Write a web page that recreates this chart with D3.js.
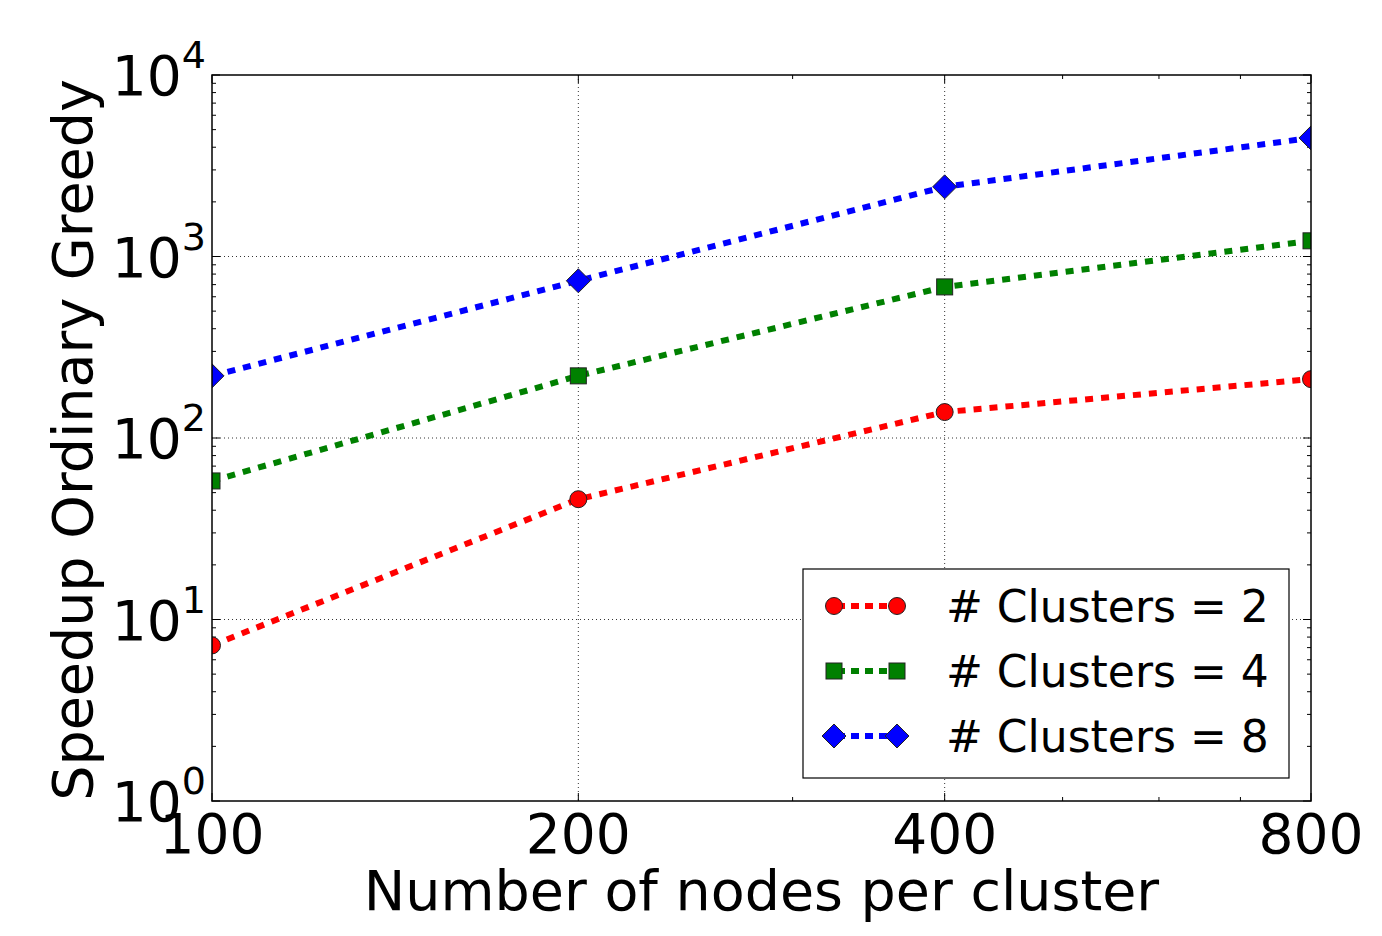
<!DOCTYPE html>
<html>
<head>
<meta charset="utf-8">
<script src="https://cdn.jsdelivr.net/npm/d3@7"></script>
<style>
  body { margin: 0; background: #fff; }
  svg { font-family: "DejaVu Sans", sans-serif; }
</style>
</head>
<body>
<script>
// data
var nodes = [100, 200, 400, 800];
var speedup2 = [7.2, 46, 139, 211];
var speedup4 = [58, 220, 680, 1220];
var speedup8 = [220, 735, 2420, 4500];
var seriesNames = ['# Clusters = 2', '# Clusters = 4', '# Clusters = 8'];
var xTicks = [100, 200, 400, 800];
var xMinor = [300, 500, 600, 700];
var yTicks = [1, 10, 100, 1000, 10000];

(function () {
  'use strict';

  var W = 1382, H = 936;
  var pL = 212, pR = 1311, pT = 75, pB = 801;

  var series = [
    { name: seriesNames[0], values: speedup2, color: '#ff0000', marker: 'circle' },
    { name: seriesNames[1], values: speedup4, color: '#008000', marker: 'square' },
    { name: seriesNames[2], values: speedup8, color: '#0000ff', marker: 'diamond' }
  ];

  var svg = d3.select('body').append('svg')
    .attr('width', W).attr('height', H);

  var x = d3.scaleLog().domain([100, 800]).range([pL, pR]);
  var y = d3.scaleLog().domain([1, 10000]).range([pB, pT]);

  // y minor ticks 2..9 per decade
  var yMinor = [];
  yTicks.slice(0, -1).forEach(function (d) {
    for (var k = 2; k <= 9; k++) yMinor.push(d * k);
  });

  // dotted grid
  var grid = svg.append('g');
  grid.selectAll('.gy').data(yTicks.slice(1, -1)).enter().append('line')
    .attr('x1', pL).attr('x2', pR)
    .attr('y1', function (d) { return y(d); }).attr('y2', function (d) { return y(d); })
    .attr('stroke', '#000').attr('stroke-width', 0.8).attr('stroke-dasharray', '1,3');
  grid.selectAll('.gx').data(xTicks.slice(1, -1)).enter().append('line')
    .attr('y1', pT).attr('y2', pB)
    .attr('x1', function (d) { return x(d); }).attr('x2', function (d) { return x(d); })
    .attr('stroke', '#000').attr('stroke-width', 0.8).attr('stroke-dasharray', '1,3');

  // ticks, inside, on all four sides
  var ticks = svg.append('g').attr('stroke', '#000').attr('stroke-width', 1);
  function tickSet(data, len, horiz) {
    data.forEach(function (d) {
      if (horiz) {
        ticks.append('line').attr('x1', x(d)).attr('x2', x(d)).attr('y1', pB).attr('y2', pB - len);
        ticks.append('line').attr('x1', x(d)).attr('x2', x(d)).attr('y1', pT).attr('y2', pT + len);
      } else {
        ticks.append('line').attr('y1', y(d)).attr('y2', y(d)).attr('x1', pL).attr('x2', pL + len);
        ticks.append('line').attr('y1', y(d)).attr('y2', y(d)).attr('x1', pR).attr('x2', pR - len);
      }
    });
  }
  tickSet(xTicks, 8, true);
  tickSet(xMinor, 4, true);
  tickSet(yTicks, 8, false);
  tickSet(yMinor, 4, false);

  // tick labels
  var lab = svg.append('g').attr('fill', '#000');
  xTicks.forEach(function (d) {
    lab.append('text').attr('x', x(d)).attr('y', pB + 52)
      .attr('text-anchor', 'middle').attr('font-size', 55).text(d);
  });
  yTicks.forEach(function (d) {
    var t = lab.append('text').attr('x', pL - 6).attr('y', y(d) + 20)
      .attr('text-anchor', 'end').attr('font-size', 55);
    t.append('tspan').text('10');
    t.append('tspan').attr('font-size', 38).attr('dy', -27).text(Math.round(Math.log10(d)));
  });

  // axis titles
  svg.append('text').attr('x', (pL + pR) / 2).attr('y', 910)
    .attr('text-anchor', 'middle').attr('font-size', 55.5).text('Number of nodes per cluster');
  svg.append('text').attr('transform', 'translate(92,' + ((pT + pB) / 2 + 2) + ') rotate(-90)')
    .attr('text-anchor', 'middle').attr('font-size', 55.5).text('Speedup Ordinary Greedy');

  // lines and markers
  var line = d3.line()
    .x(function (d, i) { return x(nodes[i]); })
    .y(function (d) { return y(d); });

  function drawMarker(g, type, cx, cy, color) {
    if (type === 'circle') {
      g.append('circle').attr('cx', cx).attr('cy', cy).attr('r', 8.5)
        .attr('fill', color).attr('stroke', '#222').attr('stroke-width', 1);
    } else if (type === 'square') {
      g.append('rect').attr('x', cx - 8).attr('y', cy - 8).attr('width', 16).attr('height', 16)
        .attr('fill', color).attr('stroke', '#222').attr('stroke-width', 1);
    } else {
      g.append('path').attr('d', 'M' + cx + ',' + (cy - 12) + 'L' + (cx + 12) + ',' + cy +
        'L' + cx + ',' + (cy + 12) + 'L' + (cx - 12) + ',' + cy + 'Z')
        .attr('fill', color).attr('stroke', '#222').attr('stroke-width', 1);
    }
  }

  svg.append('clipPath').attr('id', 'clip').append('rect')
    .attr('x', pL).attr('y', pT).attr('width', pR - pL).attr('height', pB - pT);
  var plot = svg.append('g').attr('clip-path', 'url(#clip)');

  series.forEach(function (s) {
    plot.append('path').datum(s.values).attr('d', line)
      .attr('fill', 'none').attr('stroke', s.color).attr('stroke-width', 6)
      .attr('stroke-dasharray', '8,8');
  });
  series.forEach(function (s) {
    s.values.forEach(function (v, i) {
      drawMarker(plot, s.marker, x(nodes[i]), y(v), s.color);
    });
  });

  // frame
  svg.append('rect').attr('x', pL).attr('y', pT).attr('width', pR - pL).attr('height', pB - pT)
    .attr('fill', 'none').attr('stroke', '#000').attr('stroke-width', 1.5);

  // legend
  var lg = svg.append('g');
  lg.append('rect').attr('x', 803).attr('y', 569).attr('width', 486).attr('height', 209)
    .attr('fill', '#fff').attr('stroke', '#000').attr('stroke-width', 1.2);
  series.forEach(function (s, i) {
    var cy = 606 + i * 65;
    lg.append('line').attr('x1', 834).attr('x2', 897).attr('y1', cy).attr('y2', cy)
      .attr('stroke', s.color).attr('stroke-width', 6).attr('stroke-dasharray', '8,6')
      .attr('stroke-dashoffset', -17);
    drawMarker(lg, s.marker, 834, cy, s.color);
    drawMarker(lg, s.marker, 897, cy, s.color);
    lg.append('text').attr('x', 946).attr('y', cy + 16).attr('font-size', 44).text(s.name);
  });
})();
</script>
</body>
</html>
